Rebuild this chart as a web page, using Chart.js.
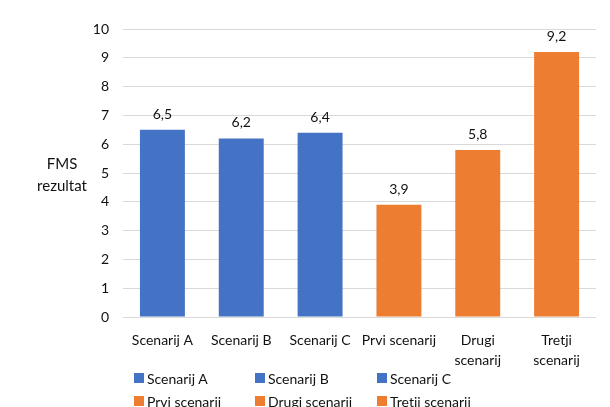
<!DOCTYPE html>
<html>
<head>
<meta charset="utf-8">
<script src="https://cdn.jsdelivr.net/npm/chart.js@4.4.1/dist/chart.umd.min.js"></script>
<style>
  html, body { margin: 0; padding: 0; background: #fff; }
  #wrap { position: relative; width: 610px; height: 407px; overflow: hidden; font-family: Lato, "Open Sans", sans-serif; color: #111; }
  #fmsChart { position: absolute; left: 0; top: 0; }
  #yTitle { position: absolute; left: 22px; top: 152px; width: 80px; text-align: center; font-size: 15px; line-height: 22px; }
  #legend { position: absolute; left: 134px; top: 368px; width: 380px; display: grid; grid-template-columns: 121px 122px 121px; row-gap: 3px; font-size: 14px; }
  .item { display: flex; align-items: center; height: 20px; white-space: nowrap; }
  .box { width: 10px; height: 10px; margin-right: 3px; flex: none; }
</style>
</head>
<body>
<div id="wrap">
  <canvas id="fmsChart" width="610" height="407"></canvas>
  <div id="yTitle">FMS<br>rezultat</div>
  <div id="legend"></div>
</div>
<script>
// Scenario names (legend) and their axis labels (wrapped where needed)
const scenarios = ["Scenarij A", "Scenarij B", "Scenarij C", "Prvi scenarij", "Drugi scenarij", "Tretji scenarij"];
const axisLabels = ["Scenarij A", "Scenarij B", "Scenarij C", "Prvi scenarij", ["Drugi", "scenarij"], ["Tretji", "scenarij"]];
const fmsScores = [6.5, 6.2, 6.4, 3.9, 5.8, 9.2];
const barColors = ["#4472C4", "#4472C4", "#4472C4", "#ED7D31", "#ED7D31", "#ED7D31"];
const yTicks = [0, 1, 2, 3, 4, 5, 6, 7, 8, 9, 10];

const fontFamily = "Lato, 'Open Sans', sans-serif";

// value labels above each bar, comma as decimal separator
const valueLabels = {
    id: "valueLabels",
    afterDatasetsDraw(chart) {
        const ctx = chart.ctx;
        const meta = chart.getDatasetMeta(0);
        ctx.save();
        ctx.font = "14px " + fontFamily;
        ctx.fillStyle = "#111";
        ctx.textAlign = "center";
        ctx.textBaseline = "alphabetic";
        meta.data.forEach((bar, i) => {
            ctx.fillText(fmsScores[i].toFixed(1).replace(".", ","), bar.x, bar.y - 11);
        });
        ctx.restore();
    }
};

new Chart(document.getElementById("fmsChart").getContext("2d"), {
    type: "bar",
    data: {
        labels: axisLabels,
        datasets: [{
            data: fmsScores,
            backgroundColor: barColors,
            borderWidth: 0,
            categoryPercentage: 1,
            barPercentage: 0.57
        }]
    },
    options: {
        responsive: false,
        animation: false,
        layout: { padding: { top: 29, right: 14, left: 0, bottom: 0 } },
        plugins: {
            legend: { display: false },
            tooltip: { enabled: false }
        },
        scales: {
            x: {
                grid: { display: false },
                border: { display: false },
                ticks: {
                    color: "#111",
                    padding: 5,
                    maxRotation: 0,
                    autoSkip: false,
                    font: { family: fontFamily, size: 14, lineHeight: 1.45 }
                },
                afterFit(scale) { scale.height = 90; }
            },
            y: {
                min: 0,
                max: 10,
                afterBuildTicks(scale) { scale.ticks = yTicks.map(v => ({ value: v })); },
                grid: { color: "#D9D9D9", lineWidth: 1, drawTicks: false },
                border: { display: false },
                ticks: {
                    color: "#111",
                    padding: 14,
                    font: { family: fontFamily, size: 14 }
                },
                afterFit(scale) { scale.width = 123; }
            }
        }
    },
    plugins: [valueLabels]
});

// legend: two rows of three
const legend = document.getElementById("legend");
scenarios.forEach((name, i) => {
    const item = document.createElement("div");
    item.className = "item";
    item.innerHTML = '<span class="box" style="background:' + barColors[i] + '"></span>' + name;
    legend.appendChild(item);
});
</script>
</body>
</html>
